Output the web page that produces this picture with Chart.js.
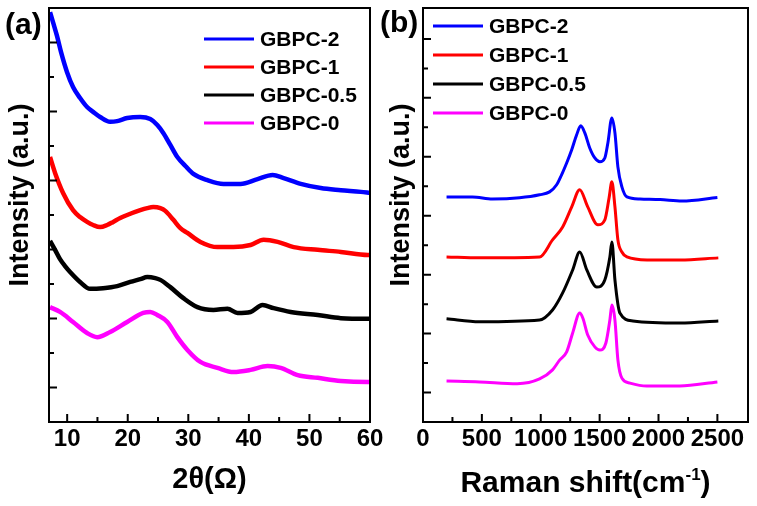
<!DOCTYPE html>
<html>
<head>
<meta charset="utf-8">
<script src="https://cdn.jsdelivr.net/npm/chart.js@4/dist/chart.umd.min.js"></script>
<style>
  html, body { margin: 0; padding: 0; background: #fff; }
  #wrap { position: relative; width: 757px; height: 506px; }
  canvas { position: absolute; left: 0; top: 0; }
</style>
</head>
<body>
<div id="wrap">
  <canvas id="xrd" width="757" height="506"></canvas>
  <canvas id="raman" width="757" height="506"></canvas>
</div>
<script>
// series names and colours (same order in both panels)
var names = ["GBPC-2", "GBPC-1", "GBPC-0.5", "GBPC-0"];
var colors = ["#0000ff", "#ff0000", "#000000", "#ff00ff"];

// (a) XRD, 2theta vs intensity (offset, a.u.)
var xrdX2 = [7.17, 7.66, 8.32, 8.99, 9.98, 10.97, 12.13, 13.29, 14.28, 15.44, 17.09, 18.26, 19.91, 22.07, 23.72, 24.88, 25.87, 27.03, 28.19, 29.52, 30.84, 33.16, 35.81, 38.62, 41.44, 43.92, 45.74, 48.56, 51.87, 55.18, 58.49, 60];
var xrdY2 = [11.88, 11.59, 11.19, 10.72, 10.14, 9.71, 9.39, 9.13, 8.99, 8.84, 8.70, 8.72, 8.81, 8.84, 8.78, 8.61, 8.38, 8.03, 7.68, 7.42, 7.19, 7.01, 6.90, 6.90, 7.04, 7.16, 7.07, 6.90, 6.78, 6.72, 6.67, 6.64];
var xrdX1 = [7.17, 8.0, 9.32, 10.97, 12.13, 13.29, 14.28, 15.44, 16.6, 17.6, 18.76, 19.91, 22.07, 23.23, 24.22, 25.38, 26.2, 27.53, 28.69, 29.85, 32.0, 34.81, 37.46, 40.28, 42.43, 44.75, 47.4, 51.37, 55.18, 59.65, 60];
var xrdY1 = [7.68, 7.22, 6.64, 6.14, 5.94, 5.80, 5.71, 5.65, 5.71, 5.80, 5.91, 6.0, 6.14, 6.20, 6.23, 6.20, 6.12, 5.86, 5.62, 5.48, 5.22, 5.07, 5.07, 5.13, 5.28, 5.22, 5.07, 4.99, 4.93, 4.84, 4.84];
var xrdX05 = [7.17, 8.0, 8.82, 9.65, 10.48, 12.13, 13.79, 15.94, 18.26, 20.41, 22.07, 23.23, 24.55, 25.38, 27.03, 29.19, 31.5, 34.15, 36.47, 38.13, 40.28, 42.26, 44.09, 46.9, 51.37, 55.18, 59.65, 60];
var xrdY05 = [5.25, 4.99, 4.72, 4.52, 4.35, 4.06, 3.86, 3.88, 3.94, 4.06, 4.14, 4.20, 4.17, 4.12, 3.91, 3.59, 3.33, 3.25, 3.28, 3.16, 3.19, 3.39, 3.30, 3.19, 3.10, 3.01, 2.99, 2.99];
var xrdX0 = [7.17, 8.82, 10.97, 13.29, 14.95, 17.1, 19.91, 22.56, 23.72, 24.88, 26.54, 28.19, 29.85, 32.0, 34.81, 37.46, 40.28, 43.09, 45.25, 48.06, 51.37, 55.18, 59.65, 60];
var xrdY0 = [3.33, 3.19, 2.90, 2.58, 2.46, 2.61, 2.90, 3.16, 3.19, 3.10, 2.90, 2.46, 2.09, 1.74, 1.57, 1.45, 1.51, 1.62, 1.57, 1.36, 1.28, 1.19, 1.16, 1.16];

// (b) Raman shift (cm-1) vs intensity (offset, a.u.)
var ramX2 = [200, 420, 590, 820, 990, 1075, 1135, 1177, 1220, 1263, 1305, 1340, 1374, 1416, 1459, 1502, 1544, 1570, 1604, 1630, 1655, 1689, 1732, 1843, 2014, 2200, 2500];
var ramY2 = [7.64, 7.64, 7.57, 7.61, 7.71, 7.81, 8.05, 8.39, 8.79, 9.24, 9.75, 10.05, 9.81, 9.30, 8.96, 8.83, 8.96, 9.47, 10.32, 9.81, 8.66, 7.98, 7.64, 7.57, 7.55, 7.50, 7.62];
var ramX1 = [200, 480, 990, 1100, 1186, 1263, 1331, 1399, 1485, 1544, 1580, 1604, 1630, 1655, 1689, 1732, 1903, 2184, 2508];
var ramY1 = [5.60, 5.57, 5.60, 6.18, 6.62, 7.30, 7.88, 7.30, 6.69, 6.86, 7.60, 8.15, 7.30, 6.18, 5.77, 5.60, 5.50, 5.50, 5.57];
var ramX05 = [200, 480, 990, 1100, 1186, 1271, 1331, 1391, 1476, 1544, 1587, 1604, 1630, 1672, 1783, 2184, 2508];
var ramY05 = [3.50, 3.40, 3.46, 3.80, 4.38, 5.16, 5.77, 5.16, 4.58, 4.82, 5.60, 6.11, 4.82, 3.70, 3.43, 3.36, 3.43];
var ramX0 = [200, 480, 800, 990, 1100, 1160, 1220, 1271, 1331, 1357, 1399, 1459, 1502, 1553, 1587, 1604, 1630, 1655, 1689, 1758, 1900, 2180, 2500];
var ramY0 = [1.39, 1.36, 1.30, 1.46, 1.77, 2.10, 2.38, 3.02, 3.70, 3.53, 2.95, 2.55, 2.44, 2.68, 3.46, 3.97, 3.46, 2.11, 1.49, 1.32, 1.22, 1.22, 1.36];

// tick values
var xrdMajor = [10, 20, 30, 40, 50, 60];
var xrdMinor = [15, 25, 35, 45, 55];
var ramMajor = [0, 500, 1000, 1500, 2000, 2500];
var ramMinor = [250, 750, 1250, 1750, 2250];

var FONT = '"Liberation Sans", Arial, Helvetica, sans-serif';

function pts(xs, ys) {
  return xs.map(function (v, i) { return {x: v, y: ys[i]}; });
}

function makeSets(list, width) {
  return list.map(function (d, i) {
    return {
      label: names[i],
      data: pts(d[0], d[1]),
      borderColor: colors[i],
      borderWidth: width,
      pointRadius: 0,
      fill: false,
      cubicInterpolationMode: 'monotone'
    };
  });
}

// frame, inward ticks, inset legend and titles
function decor(cfg) {
  return {
    id: 'decor',
    afterDraw: function (chart) {
      var ctx = chart.ctx, a = chart.chartArea;
      var xs = chart.scales.x, ys = chart.scales.y;
      ctx.save();
      ctx.strokeStyle = '#000';
      ctx.lineWidth = 2;
      ctx.strokeRect(a.left, a.top, a.right - a.left, a.bottom - a.top);

      ctx.beginPath();
      cfg.major.forEach(function (v) {
        var p = xs.getPixelForValue(v);
        ctx.moveTo(p, a.bottom); ctx.lineTo(p, a.bottom - 8);
      });
      cfg.minor.forEach(function (v) {
        var p = xs.getPixelForValue(v);
        ctx.moveTo(p, a.bottom); ctx.lineTo(p, a.bottom - 5);
      });
      for (var k = 1; k <= cfg.yTop; k++) {
        var q = ys.getPixelForValue(k);
        ctx.moveTo(a.left, q); ctx.lineTo(a.left + (k % 2 ? 8 : 5), q);
      }
      ctx.stroke();

      // legend
      ctx.font = 'bold 21px ' + FONT;
      ctx.textBaseline = 'middle';
      ctx.textAlign = 'left';
      chart.data.datasets.forEach(function (ds, i) {
        var yy = cfg.legY + i * cfg.legStep;
        ctx.strokeStyle = ds.borderColor;
        ctx.lineWidth = 3;
        ctx.beginPath();
        ctx.moveTo(cfg.legX, yy); ctx.lineTo(cfg.legX + 50, yy);
        ctx.stroke();
        ctx.fillStyle = '#000';
        ctx.fillText(ds.label, cfg.legX + 56, yy + 1);
      });

      // panel letter
      ctx.fillStyle = '#000';
      ctx.font = 'bold 30px ' + FONT;
      ctx.textBaseline = 'middle';
      ctx.fillText(cfg.letter, cfg.letX, cfg.letY);

      // y title
      ctx.save();
      ctx.translate(cfg.yTitleX, 195);
      ctx.rotate(-Math.PI / 2);
      ctx.textAlign = 'center';
      ctx.font = 'bold 27px ' + FONT;
      ctx.fillText('Intensity (a.u.)', 0, 0);
      ctx.restore();

      // x title
      var cx = (a.left + a.right) / 2;
      var big = 'bold ' + cfg.xSize + 'px ' + FONT;
      ctx.textBaseline = 'alphabetic';
      ctx.font = big;
      if (cfg.sup) {
        var w1 = ctx.measureText(cfg.xTitle).width;
        var w3 = ctx.measureText(')').width;
        ctx.font = 'bold 17px ' + FONT;
        var w2 = ctx.measureText(cfg.sup).width;
        var x0 = cx - (w1 + w2 + w3) / 2;
        ctx.textAlign = 'left';
        ctx.font = big;
        ctx.fillText(cfg.xTitle, x0, cfg.xTitleY);
        ctx.font = 'bold 17px ' + FONT;
        ctx.fillText(cfg.sup, x0 + w1, cfg.xTitleY - 12);
        ctx.font = big;
        ctx.fillText(')', x0 + w1 + w2, cfg.xTitleY);
      } else {
        ctx.textAlign = 'center';
        ctx.fillText(cfg.xTitle, cx, cfg.xTitleY);
      }
      ctx.restore();
    }
  };
}

function makeChart(id, sets, xr, yMax, padRight, yWidth, cfg) {
  return new Chart(document.getElementById(id), {
    type: 'line',
    data: {datasets: sets},
    options: {
      responsive: false,
      animation: false,
      devicePixelRatio: 1,
      layout: {padding: {left: 0, top: 8, right: padRight, bottom: 0}},
      plugins: {legend: {display: false}, tooltip: {enabled: false}},
      scales: {
        x: {
          type: 'linear',
          min: xr[0], max: xr[1],
          grid: {display: false, drawTicks: false},
          border: {display: false},
          afterBuildTicks: function (s) {
            s.ticks = cfg.major.map(function (v) { return {value: v}; });
          },
          ticks: {
            autoSkip: false, maxRotation: 0, minRotation: 0, padding: 3, color: '#000',
            font: {family: FONT, size: 24, weight: 'bold'},
            callback: function (v) { return String(v); }
          },
          afterFit: function (s) { s.height = 84; }
        },
        y: {
          min: 0, max: yMax,
          grid: {display: false, drawTicks: false},
          border: {display: false},
          ticks: {display: false},
          afterFit: function (s) { s.width = yWidth; }
        }
      }
    },
    plugins: [decor(cfg)]
  });
}

makeChart('xrd',
  makeSets([[xrdX2, xrdY2], [xrdX1, xrdY1], [xrdX05, xrdY05], [xrdX0, xrdY0]], 4.5),
  [7, 60], 12, 387, 49,
  {major: xrdMajor, minor: xrdMinor, yTop: 11, legX: 204, legY: 39, legStep: 28,
   letter: '(a)', letX: 5, letY: 26, yTitleX: 21, xTitle: '2\u03b8(\u03a9)', xSize: 29, xTitleY: 488});

makeChart('raman',
  makeSets([[ramX2, ramY2], [ramX1, ramY1], [ramX05, ramY05], [ramX0, ramY0]], 3),
  [0, 2760], 14.05, 9, 423,
  {major: ramMajor, minor: ramMinor, yTop: 13, legX: 433, legY: 26, legStep: 29,
   letter: '(b)', letX: 380, letY: 24, yTitleX: 402, xTitle: 'Raman shift(cm', sup: '-1', xSize: 30, xTitleY: 492});
</script>
</body>
</html>
